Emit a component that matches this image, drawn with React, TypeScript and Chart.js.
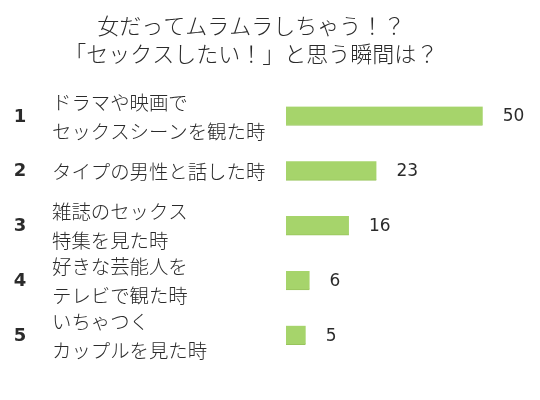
import React, { useEffect, useRef } from 'react';
import { Chart, registerables } from 'chart.js';

Chart.register(...registerables);

// data
const ranks = ['1', '2', '3', '4', '5'];
const categories: string[][] = [
  ['ドラマや映画で', 'セックスシーンを観た時'],
  ['タイプの男性と話した時'],
  ['雑誌のセックス', '特集を見た時'],
  ['好きな芸能人を', 'テレビで観た時'],
  ['いちゃつく', 'カップルを見た時'],
];
const values = [50, 23, 16, 6, 5];
const titleLines = ['女だってムラムラしちゃう！？', '「セックスしたい！」と思う瞬間は？'];

const TEXT = '#2b2b2b';
const JP = '"Noto Sans CJK JP", sans-serif';

// rank numbers, multi-line labels and values drawn next to each bar
const labelPlugin = {
  id: 'rankLabels',
  afterDraw(chart: any) {
    const ctx = chart.ctx;
    const yScale = chart.scales.y;
    const xScale = chart.scales.x;
    ctx.save();
    ctx.fillStyle = TEXT;
    ctx.textBaseline = 'middle';
    categories.forEach((lines, i) => {
      const cy = yScale.getPixelForValue(i);

      ctx.font = 'bold 18px "DejaVu Sans", sans-serif';
      ctx.textAlign = 'center';
      ctx.fillText(ranks[i], 20, cy + 1);

      ctx.font = `300 19.4px ${JP}`;
      ctx.textAlign = 'left';
      const start = cy - ((lines.length - 1) * 29) / 2;
      lines.forEach((line, j) => ctx.fillText(line, 52, start + j * 29 + 1));

      ctx.font = '17px "DejaVu Sans", sans-serif';
      ctx.fillText(String(values[i]), xScale.getPixelForValue(values[i]) + 20, cy + 1);
    });
    ctx.restore();
  },
};

export default function App() {
  const canvasRef = useRef<HTMLCanvasElement | null>(null);
  const chartRef = useRef<Chart | null>(null);

  useEffect(() => {
    if (!canvasRef.current) return;
    if (chartRef.current) chartRef.current.destroy();

    chartRef.current = new Chart(canvasRef.current, {
      type: 'bar',
      data: {
        labels: categories,
        datasets: [{
          data: values,
          backgroundColor: '#a6d46b',
          borderColor: '#98c45c',
          borderWidth: { bottom: 1, top: 0, left: 0, right: 0 },
          borderSkipped: false,
          barThickness: 19,
        }],
      },
      options: {
        indexAxis: 'y',
        responsive: true,
        maintainAspectRatio: false,
        animation: false,
        layout: { padding: { top: 0, bottom: 37.4, left: 0, right: 37.6 } },
        plugins: {
          legend: { display: false },
          tooltip: { enabled: false },
          title: {
            display: true,
            text: titleLines,
            color: TEXT,
            font: { family: JP, size: 22, weight: 300, lineHeight: 28 / 22 },
            padding: { top: 12, bottom: 20.6 },
          },
        },
        scales: {
          x: { display: false, min: 0, max: 55 },
          y: {
            display: true,
            grid: { display: false },
            border: { display: false },
            ticks: { display: false },
            afterFit: (scale: any) => { scale.width = 286; },
          },
        },
      },
      plugins: [labelPlugin],
    });

    return () => {
      if (chartRef.current) chartRef.current.destroy();
      chartRef.current = null;
    };
  }, []);

  return (
    <div style={{ position: 'fixed', top: 0, left: 0, width: 540, height: 400, background: '#ffffff' }}>
      <canvas ref={canvasRef}></canvas>
    </div>
  );
}
